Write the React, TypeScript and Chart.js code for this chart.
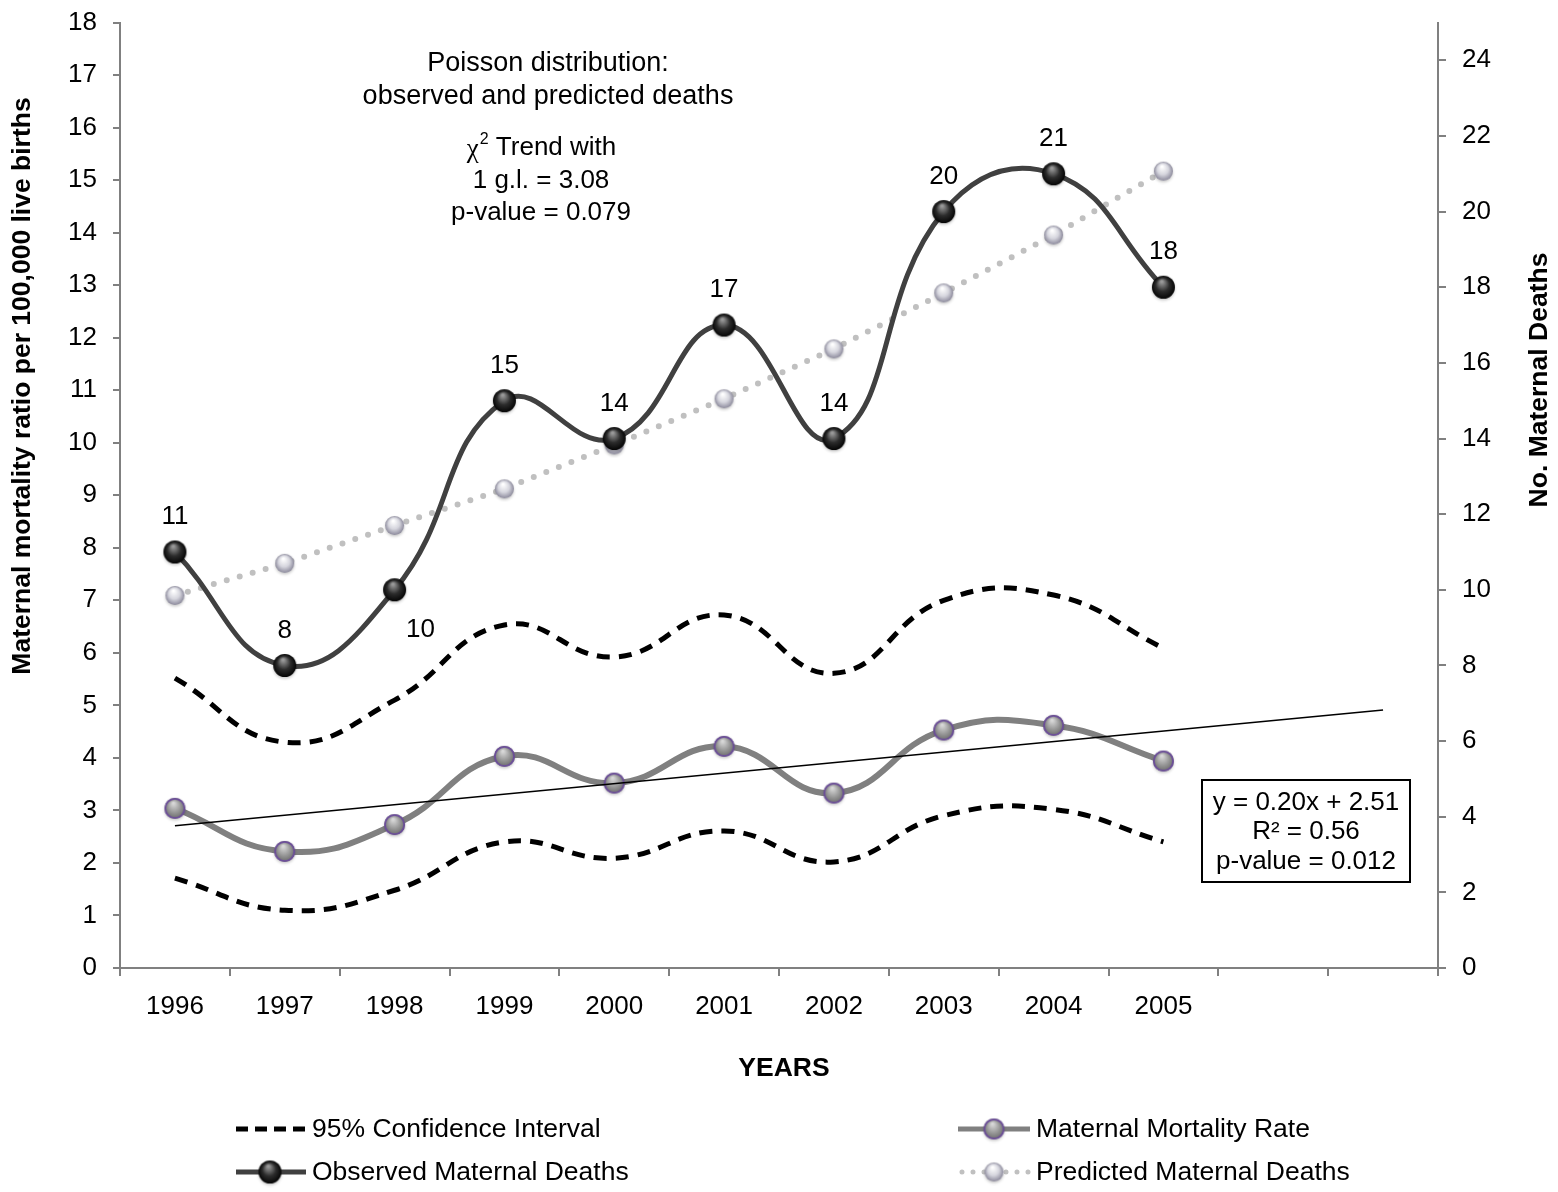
import React, { useEffect, useRef } from 'react';
import { Chart, registerables } from 'chart.js';

Chart.register(...registerables);

const categories = ['1996', '1997', '1998', '1999', '2000', '2001', '2002', '2003', '2004', '2005', '', ''];
const observedDeaths = [11, 8, 10, 15, 14, 17, 14, 20, 21, 18];
const predictedDeaths = [9.85, 10.7, 11.7, 12.67, 13.83, 15.05, 16.37, 17.85, 19.38, 21.07];
const mortalityRate = [3.04, 2.22, 2.73, 4.03, 3.52, 4.22, 3.33, 4.53, 4.62, 3.94];
const ciUpper = [5.52, 4.3, 5.1, 6.53, 5.92, 6.72, 5.61, 7.0, 7.1, 6.09];
const ciLower = [1.71, 1.1, 1.48, 2.4, 2.09, 2.61, 2.02, 2.9, 3.02, 2.4];
const trendLine = [2.71, null, null, null, null, null, null, null, null, null, null, 4.91];
const leftAxisRange = [0, 18];
const rightAxisRange = [0, 25];

const FONT = "'Liberation Sans', Arial, sans-serif";

function makeSphere(r: number, light: string, mid: string, dark: string, ring?: string) {
  const pad = 4;
  const size = Math.ceil((r + pad) * 2);
  const c = document.createElement('canvas');
  c.width = size;
  c.height = size;
  const ctx = c.getContext('2d')!;
  const cx = size / 2;
  const cy = size / 2;
  ctx.save();
  ctx.shadowColor = 'rgba(0,0,0,0.22)';
  ctx.shadowBlur = 3;
  ctx.shadowOffsetY = 1.5;
  const g = ctx.createRadialGradient(cx - r * 0.15, cy - r * 0.5, r * 0.08, cx, cy, r);
  g.addColorStop(0, light);
  g.addColorStop(0.55, mid);
  g.addColorStop(1, dark);
  ctx.fillStyle = g;
  ctx.beginPath();
  ctx.arc(cx, cy, r, 0, Math.PI * 2);
  ctx.fill();
  ctx.restore();
  if (ring) {
    ctx.strokeStyle = ring;
    ctx.lineWidth = 1.8;
    ctx.beginPath();
    ctx.arc(cx, cy, r - 0.9, 0, Math.PI * 2);
    ctx.stroke();
  }
  return c;
}

export default function App() {
  const ref = useRef<HTMLCanvasElement | null>(null);

  useEffect(() => {
    const canvas = ref.current;
    if (!canvas) return;

    const obsSphere = makeSphere(11.5, '#9a9a9a', '#2c2c2c', '#050505');
    const predSphere = makeSphere(9.5, '#ffffff', '#d6d6de', '#8c8a9c');
    const mmrSphere = makeSphere(10.5, '#d8d8d8', '#9a9a9a', '#6a6a6a', '#6b4c9a');

    const overlay = {
      id: 'overlay',
      afterDatasetsDraw(chart: any) {
        const ctx = chart.ctx;
        const meta = chart.getDatasetMeta(0);
        ctx.save();
        ctx.fillStyle = '#000';
        ctx.font = `26px ${FONT}`;
        ctx.textAlign = 'center';
        ctx.textBaseline = 'middle';
        meta.data.forEach((pt: any, i: number) => {
          const label = String(observedDeaths[i]);
          if (i === 2) {
            ctx.fillText(label, pt.x + 26, pt.y + 40);
          } else {
            ctx.fillText(label, pt.x, pt.y - 35);
          }
        });
        ctx.restore();
      },
      afterDraw(chart: any) {
        const ctx = chart.ctx;
        ctx.save();
        ctx.fillStyle = '#000';
        ctx.textAlign = 'center';
        ctx.textBaseline = 'middle';
        // annotation text
        ctx.font = `27px ${FONT}`;
        ctx.fillText('Poisson distribution:', 548, 64);
        ctx.fillText('observed and predicted deaths', 548, 97);
        // chi line
        const chi = 'χ';
        const sup = '2';
        const rest = ' Trend with';
        ctx.font = `27px 'Liberation Serif', serif`;
        const wChi = ctx.measureText(chi).width;
        ctx.font = `16px ${FONT}`;
        const wSup = ctx.measureText(sup).width;
        ctx.font = `26px ${FONT}`;
        const wRest = ctx.measureText(rest).width;
        let x0 = 541 - (wChi + wSup + wRest) / 2;
        ctx.textAlign = 'left';
        ctx.font = `27px 'Liberation Serif', serif`;
        ctx.fillText(chi, x0, 150);
        x0 += wChi + 1;
        ctx.font = `16px ${FONT}`;
        ctx.fillText(sup, x0, 140);
        x0 += wSup;
        ctx.font = `26px ${FONT}`;
        ctx.fillText(rest, x0, 148);
        ctx.textAlign = 'center';
        ctx.fillText('1 g.l. = 3.08', 541, 181);
        ctx.fillText('p-value = 0.079', 541, 213);

        // equation box
        ctx.lineWidth = 2;
        ctx.strokeStyle = '#000';
        ctx.strokeRect(1202, 780, 208, 102);
        ctx.fillText('y = 0.20x + 2.51', 1306, 803);
        ctx.fillText('R² = 0.56', 1306, 832);
        ctx.fillText('p-value = 0.012', 1306, 862);

        // axis titles
        ctx.font = `bold 26.5px ${FONT}`;
        ctx.fillText('YEARS', 784, 1069);
        ctx.save();
        ctx.translate(23, 386);
        ctx.rotate(-Math.PI / 2);
        ctx.fillText('Maternal mortality ratio per 100,000 live births', 0, 0);
        ctx.restore();
        ctx.save();
        ctx.translate(1540, 380);
        ctx.rotate(-Math.PI / 2);
        ctx.fillText('No. Maternal Deaths', 0, 0);
        ctx.restore();

        // legend
        ctx.font = `26.5px ${FONT}`;
        ctx.textAlign = 'left';
        const row1 = 1129;
        const row2 = 1172;
        // CI
        ctx.save();
        ctx.strokeStyle = '#000';
        ctx.lineWidth = 5;
        ctx.lineCap = 'butt';
        ctx.setLineDash([12, 7]);
        ctx.beginPath();
        ctx.moveTo(236, row1);
        ctx.lineTo(308, row1);
        ctx.stroke();
        ctx.restore();
        ctx.fillText('95% Confidence Interval', 312, row1 + 1);
        // Observed
        ctx.save();
        ctx.strokeStyle = '#404040';
        ctx.lineWidth = 5;
        ctx.beginPath();
        ctx.moveTo(236, row2);
        ctx.lineTo(306, row2);
        ctx.stroke();
        ctx.restore();
        ctx.drawImage(obsSphere, 270 - obsSphere.width / 2, row2 - obsSphere.height / 2);
        ctx.fillText('Observed Maternal Deaths', 312, row2 + 1);
        // MMR
        ctx.save();
        ctx.strokeStyle = '#808080';
        ctx.lineWidth = 5;
        ctx.beginPath();
        ctx.moveTo(958, row1);
        ctx.lineTo(1030, row1);
        ctx.stroke();
        ctx.restore();
        ctx.drawImage(mmrSphere, 994 - mmrSphere.width / 2, row1 - mmrSphere.height / 2);
        ctx.fillText('Maternal Mortality Rate', 1036, row1 + 1);
        // Predicted
        ctx.save();
        ctx.strokeStyle = '#c0c0c0';
        ctx.lineWidth = 5;
        ctx.lineCap = 'round';
        ctx.setLineDash([0, 11]);
        ctx.beginPath();
        ctx.moveTo(962, row2);
        ctx.lineTo(1030, row2);
        ctx.stroke();
        ctx.restore();
        ctx.drawImage(predSphere, 994 - predSphere.width / 2, row2 - predSphere.height / 2);
        ctx.fillText('Predicted Maternal Deaths', 1036, row2 + 1);
        ctx.restore();
      },
    };

    const axisGray = '#808080';

    const chart = new Chart(canvas, {
      type: 'line',
      data: {
        labels: categories,
        datasets: [
          {
            label: 'Observed Maternal Deaths',
            data: observedDeaths,
            yAxisID: 'y1',
            borderColor: '#404040',
            borderWidth: 5,
            tension: 0.45,
            pointStyle: obsSphere as any,
            pointRadius: 11,
          },
          {
            label: 'Predicted Maternal Deaths',
            data: predictedDeaths,
            yAxisID: 'y1',
            borderColor: '#c0c0c0',
            borderWidth: 6,
            borderDash: [0, 13.5],
            borderCapStyle: 'round',
            tension: 0,
            pointStyle: predSphere as any,
            pointRadius: 10,
          },
          {
            label: 'Trend',
            data: trendLine,
            yAxisID: 'y',
            borderColor: '#000',
            borderWidth: 1.5,
            spanGaps: true,
            pointRadius: 0,
            tension: 0,
          },
          {
            label: 'Maternal Mortality Rate',
            data: mortalityRate,
            yAxisID: 'y',
            borderColor: '#808080',
            borderWidth: 6,
            tension: 0.45,
            pointStyle: mmrSphere as any,
            pointRadius: 10,
          },
          {
            label: '95% Confidence Interval',
            data: ciUpper,
            yAxisID: 'y',
            borderColor: '#000',
            borderWidth: 5,
            borderDash: [13, 9],
            tension: 0.45,
            pointRadius: 0,
          },
          {
            label: '95% Confidence Interval lower',
            data: ciLower,
            yAxisID: 'y',
            borderColor: '#000',
            borderWidth: 5,
            borderDash: [13, 9],
            tension: 0.45,
            pointRadius: 0,
          },
        ],
      },
      options: {
        responsive: false,
        animation: false,
        events: [],
        layout: { padding: { top: 22, left: 0, right: 0, bottom: 0 } },
        plugins: {
          legend: { display: false },
          tooltip: { enabled: false },
          title: { display: false },
        },
        scales: {
          x: {
            type: 'category',
            offset: true,
            grid: {
              offset: true,
              drawOnChartArea: false,
              drawTicks: true,
              tickLength: 8,
              color: axisGray,
              lineWidth: 2,
            },
            border: { display: true, color: axisGray, width: 2 },
            ticks: {
              color: '#000',
              font: { family: FONT, size: 26 },
              padding: 15,
              maxRotation: 0,
              autoSkip: false,
            },
            afterFit(scale: any) {
              scale.height = 224;
            },
          },
          y: {
            type: 'linear',
            position: 'left',
            min: leftAxisRange[0],
            max: leftAxisRange[1],
            grid: {
              drawOnChartArea: false,
              drawTicks: true,
              tickLength: 7,
              color: axisGray,
              lineWidth: 2,
            },
            border: { display: true, color: axisGray, width: 2 },
            ticks: {
              stepSize: 1,
              color: '#000',
              font: { family: FONT, size: 26, lineHeight: 0.5 },
              padding: 16,
            },
            afterFit(scale: any) {
              scale.width = 120;
            },
          },
          y1: {
            type: 'linear',
            position: 'right',
            min: rightAxisRange[0],
            max: rightAxisRange[1],
            grid: {
              drawOnChartArea: false,
              drawTicks: true,
              tickLength: 8,
              color: axisGray,
              lineWidth: 2,
            },
            border: { display: true, color: axisGray, width: 2 },
            ticks: {
              stepSize: 2,
              color: '#000',
              font: { family: FONT, size: 26, lineHeight: 0.5 },
              padding: 16,
            },
            afterBuildTicks(scale: any) {
              scale.ticks = scale.ticks.filter((t: any) => t.value % 2 === 0);
            },
            afterFit(scale: any) {
              scale.width = 120;
            },
          },
        },
      },
      plugins: [overlay],
    });

    return () => {
      chart.destroy();
    };
  }, []);

  return (
    <div style={{ position: 'absolute', left: 0, top: 0, width: 1558, height: 1192, background: '#fff' }}>
      <canvas ref={ref} width={1558} height={1192} style={{ display: 'block' }} />
    </div>
  );
}
